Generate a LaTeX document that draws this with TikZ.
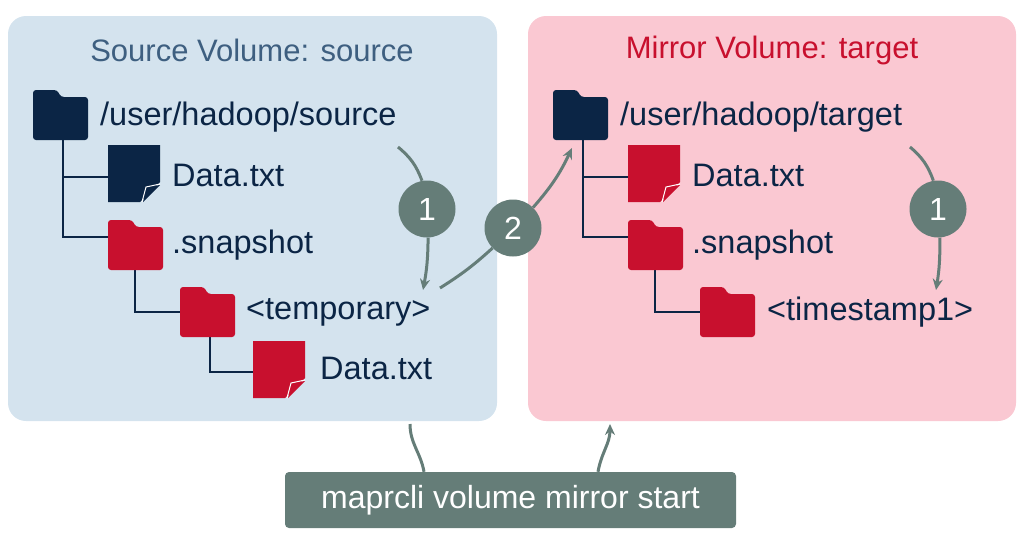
\documentclass[tikz,border=0pt]{standalone}
\usepackage{fontspec}
\setmainfont{Liberation Sans}
\usetikzlibrary{arrows.meta}
\definecolor{lblue}{HTML}{D4E3EE}
\definecolor{lpink}{HTML}{FAC8D2}
\definecolor{dnavy}{HTML}{0B2545}
\definecolor{dred}{HTML}{C8102E}
\definecolor{tblue}{HTML}{3E5F80}
\definecolor{gray1}{HTML}{657D78}
\newcommand{\myfolder}[3]{% x y color (top-left), 55x50
  \fill[#3,rounded corners=3pt] (#1,#2+50) -- (#1,#2) -- (#1+24,#2) -- (#1+28,#2+7) -- (#1+55,#2+7) -- (#1+55,#2+50) -- cycle;}
\newcommand{\myfile}[3]{% x y color, 52x57
  \fill[#3] (#1,#2) -- (#1+52,#2) -- (#1+52,#2+37) -- (#1+32,#2+57) -- (#1,#2+57) -- cycle;
  \fill[#3] (#1+52,#2+40) -- (#1+35,#2+57) -- (#1+38,#2+42) -- cycle;
  \draw[white,line width=1pt] (#1+52,#2+39) -- (#1+38,#2+42) -- (#1+34,#2+57);}
\begin{document}
\begin{tikzpicture}[x=1pt,y=-1pt,
  lbl/.style={anchor=west,font=\fontsize{32.5}{36}\selectfont,text=dnavy,inner sep=0},
  ttl/.style={font=\fontsize{31}{34}\selectfont,inner sep=0},
  tree/.style={dnavy,line width=2.2pt},
  garr/.style={gray1,line width=3pt,-{Stealth[length=11pt,width=10pt]}},
  gline/.style={gray1,line width=3pt},
  num/.style={circle,fill=gray1,minimum size=57pt,inner sep=0,text=white,font=\fontsize{32}{34}\selectfont}]
\useasboundingbox (0,0) rectangle (1024,544);
\fill[lblue,rounded corners=18pt] (8,16) rectangle (497,421);
\fill[lpink,rounded corners=18pt] (528,16) rectangle (1016,421);
\node[ttl,text=tblue] (t1) at (252,50) {Source Volume: source};
\node[ttl,text=dred] (t2) at (772,50) {Mirror Volume: target};
% left tree
\draw[tree] (63,140) -- (63,237) -- (108,237) (63,177) -- (108,177);
\draw[tree] (135,268) -- (135,312) -- (180,312);
\draw[tree] (210,335) -- (210,372) -- (253,372);
\myfolder{33}{90}{dnavy}
\myfile{108}{145}{dnavy}
\myfolder{108}{220}{dred}
\myfolder{180}{287}{dred}
\myfile{253}{341}{dred}
\node[lbl] (a1) at (100,117) {/user/hadoop/source};
\node[lbl] (a2) at (172,175) {Data.txt};
\node[lbl] (a3) at (172,245) {.snapshot};
\node[lbl] (a4) at (246,312) {<temporary>};
\node[lbl] (a5) at (320,368) {Data.txt};
% right tree
\draw[tree] (583,140) -- (583,237) -- (628,237) (583,177) -- (628,177);
\draw[tree] (655,268) -- (655,312) -- (700,312);
\myfolder{553}{90}{dnavy}
\myfile{628}{145}{dred}
\myfolder{628}{220}{dred}
\myfolder{700}{287}{dred}
\node[lbl] (b1) at (620,117) {/user/hadoop/target};
\node[lbl] (b2) at (692,175) {Data.txt};
\node[lbl] (b3) at (692,245) {.snapshot};
\node[lbl] (b4) at (767,312) {<timestamp1>};
% arrows
\node[num] (n1) at (427,209) {1};
\node[num] (n2) at (513,228) {2};
\node[num] (n3) at (938,209) {1};
\coordinate (s1) at (398,147); \coordinate (e1) at (423,290);
\coordinate (s2) at (440,288); \coordinate (e2) at (572,148);
\coordinate (s3) at (910,147); \coordinate (e3) at (936,290);
\draw[gline] (s1) to[bend left=15] (n1);
\draw[garr] (n1) to[bend left=5] (e1);
\draw[gline] (s2) to[bend left=-5] (n2);
\draw[garr] (n2) to[bend right=8] (e2);
\draw[gline] (s3) to[bend left=15] (n3);
\draw[garr] (n3) to[bend left=5] (e3);
\node[fill=gray1,rounded corners=4pt,minimum width=451pt,minimum height=56pt,text=white,font=\fontsize{32}{34}\selectfont] (cmd) at (510.5,500) {maprcli volume mirror start};
\coordinate (p1) at (410,424); \coordinate (p2) at (610,424);
\draw[gline] (p1) to[out=-90,in=100] (cmd.north -| 424,0);
\draw[garr] (cmd.north -| 598,0) to[out=80,in=-90] (p2);
\end{tikzpicture}
\end{document}
